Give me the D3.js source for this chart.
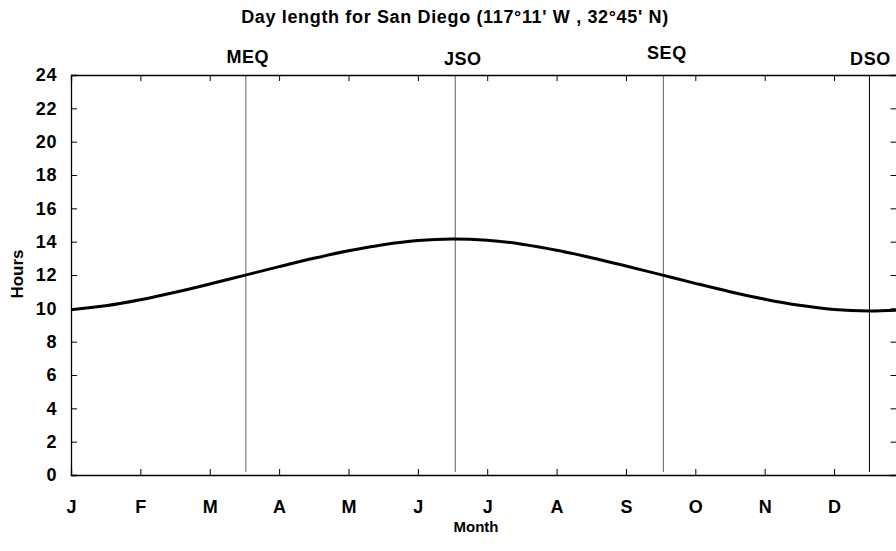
<!DOCTYPE html>
<html>
<head>
<meta charset="utf-8">
<script src="https://cdn.jsdelivr.net/npm/d3@7"></script>
<style>
  html, body { margin: 0; padding: 0; background: #fff; }
  svg { display: block; }
  text { font-family: "Liberation Sans", Arial, Helvetica, sans-serif; font-weight: bold; fill: #000; }
</style>
</head>
<body>
<svg id="chart" width="896" height="551"></svg>
<script>
// Month letters along the bottom axis and their positions (in months from January)
const monthLabels = ["J", "F", "M", "A", "M", "J", "J", "A", "S", "O", "N", "D"];
const monthTicks = [0, 1, 2, 3, 4, 5, 6, 7, 8, 9, 10, 11];

// Hour ticks on the vertical axis
const hourTicks = [0, 2, 4, 6, 8, 10, 12, 14, 16, 18, 20, 22, 24];

// Equinoxes and solstices (month position)
const eventNames = ["MEQ", "JSO", "SEQ", "DSO"];
const eventMonths = [2.52, 5.54, 8.54, 11.51];

// Day length through the year (hours), sampled every half month
const sampleMonths = [0, 0.5, 1, 1.5, 2, 2.5, 3, 3.5, 4, 4.5, 5, 5.5, 6, 6.5, 7, 7.5, 8, 8.5, 9, 9.5, 10, 10.5, 11, 11.5, 11.9];
const dayHours = [9.92, 10.15, 10.51, 10.96, 11.46, 11.98, 12.50, 13.00, 13.45, 13.82, 14.07, 14.16, 14.08, 13.85, 13.49, 13.04, 12.54, 12.02, 11.50, 11.00, 10.55, 10.18, 9.93, 9.84, 9.89];

const title = "Day length for San Diego (117°11' W , 32°45' N)";

// Plot frame
const plotLeft = 71, plotRight = 896.5, plotTop = 75, plotBottom = 475;

// Small nudges for the staggered event captions
const eventLabelOffset = [
  { dx: 2, y: 62.5 },
  { dx: 7.5, y: 65 },
  { dx: 3.5, y: 58.5 },
  { dx: 1, y: 64.5 }
];

const labelFont = "18px";
const labelSpacing = "0.6px";

const svg = d3.select("#chart");

const x = d3.scaleLinear().domain([0, 11.9]).range([plotLeft, plotRight]);
const y = d3.scaleLinear().domain([0, 24]).range([plotBottom, plotTop]);

// Title
svg.append("text")
  .attr("x", 455).attr("y", 23)
  .attr("text-anchor", "middle")
  .style("font-size", "18px")
  .style("letter-spacing", "0.65px")
  .text(title);

// Event markers
const ev = svg.append("g");
eventMonths.forEach((m, i) => {
  ev.append("line")
    .attr("x1", x(m)).attr("x2", x(m))
    .attr("y1", plotTop).attr("y2", plotBottom - 3)
    .attr("stroke", i === 3 ? "#000" : "#7a7a7a")
    .attr("stroke-width", i === 3 ? 1 : 1.2);
  ev.append("text")
    .attr("x", x(m) + eventLabelOffset[i].dx)
    .attr("y", eventLabelOffset[i].y)
    .attr("text-anchor", "middle")
    .style("font-size", labelFont)
    .style("letter-spacing", labelSpacing)
    .text(eventNames[i]);
});

// Day length curve
const line = d3.line()
  .x((d, i) => x(sampleMonths[i]))
  .y(d => y(d))
  .curve(d3.curveCatmullRom);
svg.append("path")
  .datum(dayHours)
  .attr("fill", "none")
  .attr("stroke", "#000")
  .attr("stroke-width", 3)
  .attr("d", line);

// Frame and inward ticks
const tickLen = 6;
const axisBottom = d3.axisBottom(x).tickValues(monthTicks).tickSize(-tickLen).tickPadding(25)
  .tickFormat((d, i) => monthLabels[i]);
const gB = svg.append("g").attr("transform", `translate(0,${plotBottom})`).call(axisBottom);
gB.selectAll("text").style("font-size", labelFont).attr("dy", "0.71em");

const axisTop = d3.axisTop(x).tickValues(monthTicks).tickSize(-tickLen).tickFormat("");
svg.append("g").attr("transform", `translate(0,${plotTop})`).call(axisTop);

const axisLeft = d3.axisLeft(y).tickValues(hourTicks).tickSize(-tickLen).tickPadding(14);
const gL = svg.append("g").attr("transform", `translate(${plotLeft},0)`).call(axisLeft);
gL.selectAll("text").style("font-size", labelFont).style("letter-spacing", labelSpacing);

const axisRight = d3.axisRight(y).tickValues(hourTicks).tickSize(-tickLen).tickFormat("");
svg.append("g").attr("transform", `translate(${plotRight},0)`).call(axisRight);

svg.selectAll(".domain").attr("stroke", "#000").attr("stroke-width", 1.3);
svg.selectAll(".tick line").attr("stroke", "#000");
svg.selectAll(".tick text").attr("fill", "#000").style("font-family", "'Liberation Sans', Arial, sans-serif").style("font-weight", "bold");

// Axis titles
svg.append("text")
  .attr("x", 476).attr("y", 532)
  .attr("text-anchor", "middle")
  .style("font-size", "15px")
  .text("Month");

svg.append("text")
  .attr("transform", "translate(23,274) rotate(-90)")
  .attr("text-anchor", "middle")
  .style("font-size", "17px")
  .text("Hours");
</script>
</body>
</html>
